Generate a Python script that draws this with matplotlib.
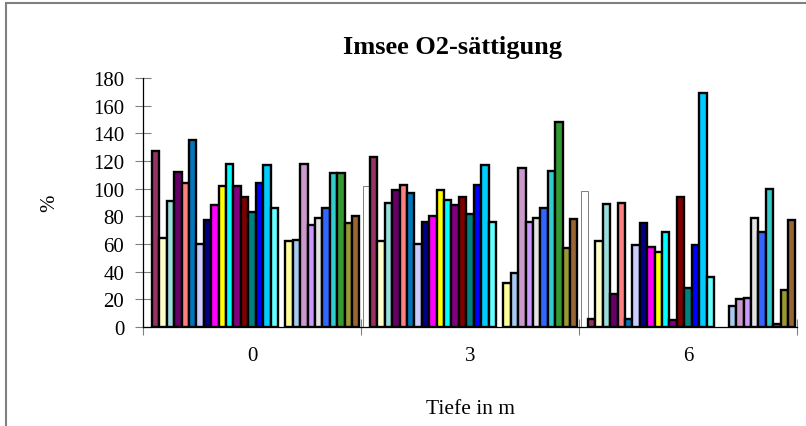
import matplotlib
matplotlib.use("Agg")
import matplotlib.pyplot as plt
from matplotlib.patches import Rectangle
import numpy as np

# ---------- DATA ----------

depths = ["0", "3", "6"]

# one entry per measurement series, in drawing order (None = empty series)
series_colors = [
    "#FFFFFF", "#993366", "#FFFFCC", "#99DDDD", "#660066", "#FF8080",
    "#0077BB", "#CCCCFF", "#000080", "#FF00FF", "#FFFF00", "#00FFFF",
    "#800080", "#800000", "#008080", "#0000FF", "#00CCFF", "#66FFFF",
    None,
    "#FFFF99", "#A6CAF0", "#CC99CC", "#CC99FF", "#E3E3E3", "#3366FF",
    "#33CCCC", "#339933", "#999933", "#996633",
]

nan = np.nan
sat_0m = [nan, 127, 64, 91, 112, 104, 135, 60, 77, 88, 102, 118, 102, 94, 83, 104, 117, 86,
          nan, 62, 63, 118, 74, 79, 86, 111, 111, 75, 80]
sat_3m = [102, 123, 62, 90, 99, 103, 97, 60, 76, 80, 99, 92, 88, 94, 82, 103, 117, 76,
          nan, 32, 39, 115, 76, 79, 86, 113, 148, 57, 78]
sat_6m = [98, 6, 62, 89, 24, 90, 6, 59, 75, 58, 54, 69, 5, 94, 28, 59, 169, 36,
          nan, nan, 15, 20, 21, 79, 69, 100, 2, 27, 77]

yticks = list(range(0, 181, 20))

# ---------- PLOT ----------

plt.rcParams["font.family"] = ["Liberation Serif", "DejaVu Serif"]

fig = plt.figure(figsize=(8.06, 4.27), dpi=100)
ax = fig.add_axes([143 / 806, 99 / 427, 654 / 806, 249 / 427])

values = np.array([sat_0m, sat_3m, sat_6m])
n_series = len(series_colors)
group = 0.985
width = group / n_series
x = np.arange(len(depths))

for i, color in enumerate(series_colors):
    if color is None:
        continue
    pos = x - group / 2 + (i + 0.5) * width
    if color == "#FFFFFF":
        ax.bar(pos, values[:, i], width=width, color=color,
               edgecolor="#808080", linewidth=0.7, zorder=3)
    else:
        ax.bar(pos, values[:, i], width=width, color=color,
               edgecolor="black", linewidth=1.7, zorder=3)

ax.set_xlim(-0.5, len(depths) - 0.5)
ax.set_ylim(0, 180)
ax.set_yticks(yticks)
ax.tick_params(axis="y", direction="inout", length=11, width=0.8,
               color="#808080", labelsize=15, pad=8)

# category labels centred, tick marks on the category boundaries
ax.set_xticks(x)
ax.set_xticklabels(depths)
ax.tick_params(axis="x", length=0, labelsize=15, pad=14)
ax.set_xticks(np.arange(-0.5, len(depths)), minor=True)
ax.tick_params(axis="x", which="minor", direction="inout", length=12,
               width=0.8, color="#808080")

for side in ["top", "right"]:
    ax.spines[side].set_visible(False)
ax.spines["left"].set_linewidth(0.9)
ax.spines["bottom"].set_linewidth(0.9)
ax.spines["bottom"].set_zorder(4)

ax.set_ylabel("%", fontsize=15, labelpad=24)
ax.set_xlabel("Tiefe in m", fontsize=15.5, labelpad=24)

fig.text(0.562, 0.874, "Imsee O2-sättigung", ha="center", va="baseline",
         fontsize=19, fontweight="bold")

# chart area frame
fig.patches.append(Rectangle((6 / 806, -0.2), 1.2, 1.2 - 4 / 427,
                             transform=fig.transFigure, fill=False,
                             edgecolor="#808080", linewidth=1.5))

fig.savefig("out.png", dpi=100)
